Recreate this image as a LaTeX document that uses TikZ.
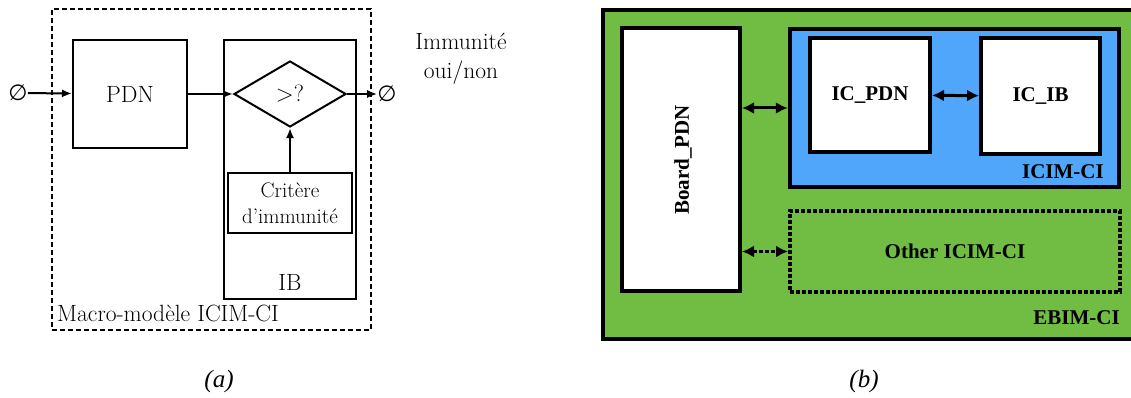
\documentclass[tikz,border=0pt]{standalone}
\usepackage{fontspec}
\usetikzlibrary{arrows.meta, shapes.geometric, calc}
\newfontfamily\libserif{Liberation Serif}
\newfontfamily\symbfont{DejaVu Sans}
\definecolor{boardgreen}{RGB}{113,189,68}
\definecolor{icblue}{RGB}{80,166,250}

\begin{document}
\begin{tikzpicture}[
        x=1pt, y=-1pt,
        every node/.style={inner sep=0pt},
        txta/.style={font=\fontsize{23.5}{29}\selectfont, align=center},
        txtb/.style={font=\libserif\bfseries\fontsize{21}{25}\selectfont},
        blocka/.style={draw, line width=2pt},
        blockb/.style={draw, line width=4pt, fill=white},
        arrow/.style={-{Latex[length=10pt, width=8pt]}, line width=2pt},
        dblarrow/.style={{Latex[length=12pt, width=12pt]}-{Latex[length=12pt, width=12pt]}, line width=3pt}
      ]
        \useasboundingbox (0,0) rectangle (1131,398);
        \clip (0,0) rectangle (1131,398);
        % (a)
        \node[draw, line width=2pt, dash pattern=on 5pt off 3pt, minimum width=319, minimum height=321] (macro) at (211.5,169.5) {};
        \node[blocka, minimum width=114, minimum height=108, txta] (pdn) at (130,94) {PDN};
        \node[blocka, minimum width=132, minimum height=259] (ib) at (290,169.5) {};
        \node[blocka, diamond, minimum width=112, minimum height=66, txta] (cmp) at (290,94) {>?};
        \node[blocka, minimum width=124, minimum height=60, font=\fontsize{21}{26}\selectfont, align=center] (crit) at (290,203) {Critère\\d'immunité};
        \node[txta] (ibtxt) at (290,282) {IB};
        \node[txta, anchor=west] (macrotxt) at (57,313) {Macro-modèle ICIM-CI};
        \node[font=\symbfont\fontsize{22}{22}\selectfont] (in) at (18,93) {∅};
        \node[font=\symbfont\fontsize{22}{22}\selectfont] (out) at (387,94) {∅};
        \node[txta] (result) at (461,59) {Immunité\\oui/non};
        \draw[arrow] (in) -- (pdn);
        \draw[arrow] (pdn) -- (cmp);
        \draw[arrow] (cmp) -- (out);
        \draw[arrow] (crit) -- (cmp);
        % (b)
        \node[draw, line width=4pt, fill=boardgreen, minimum width=560, minimum height=328.5] (ebim) at (882.5,174.75) {};
        \node[blockb, minimum width=118, minimum height=263] (board) at (681,159.5) {};
        \node[txtb, rotate=90] (boardtxt) at (683,160) {Board\_PDN};
        \node[draw, line width=4.5pt, fill=icblue, minimum width=329, minimum height=158] (icim) at (954.5,108) {};
        \node[blockb, minimum width=120, minimum height=114, txtb] (icpdn) at (870,95) {IC\_PDN};
        \node[blockb, minimum width=119, minimum height=116, txtb] (icib) at (1040.5,96) {IC\_IB};
        \node[txtb, anchor=east] (icimtxt) at (1104,172) {ICIM-CI};
        \node[draw, line width=4pt, dash pattern=on 4pt off 2pt, minimum width=330, minimum height=81, txtb] (other) at (955,251.5) {Other ICIM-CI};
        \node[txtb, anchor=east] (ebimtxt) at (1120,318) {EBIM-CI};
        \draw[dblarrow] (icim.west -| board.east) -- (icim.west);
        \draw[dblarrow] (icpdn) -- (icib);
        \draw[dblarrow, dash pattern=on 4pt off 2pt] (other.west -| board.east) -- (other.west);
        % captions
        \node[font=\libserif\itshape\fontsize{25}{30}\selectfont] (capa) at (219,381) {(a)};
        \node[font=\libserif\itshape\fontsize{25}{30}\selectfont] (capb) at (864,381) {(b)};
      \end{tikzpicture}
\end{document}
